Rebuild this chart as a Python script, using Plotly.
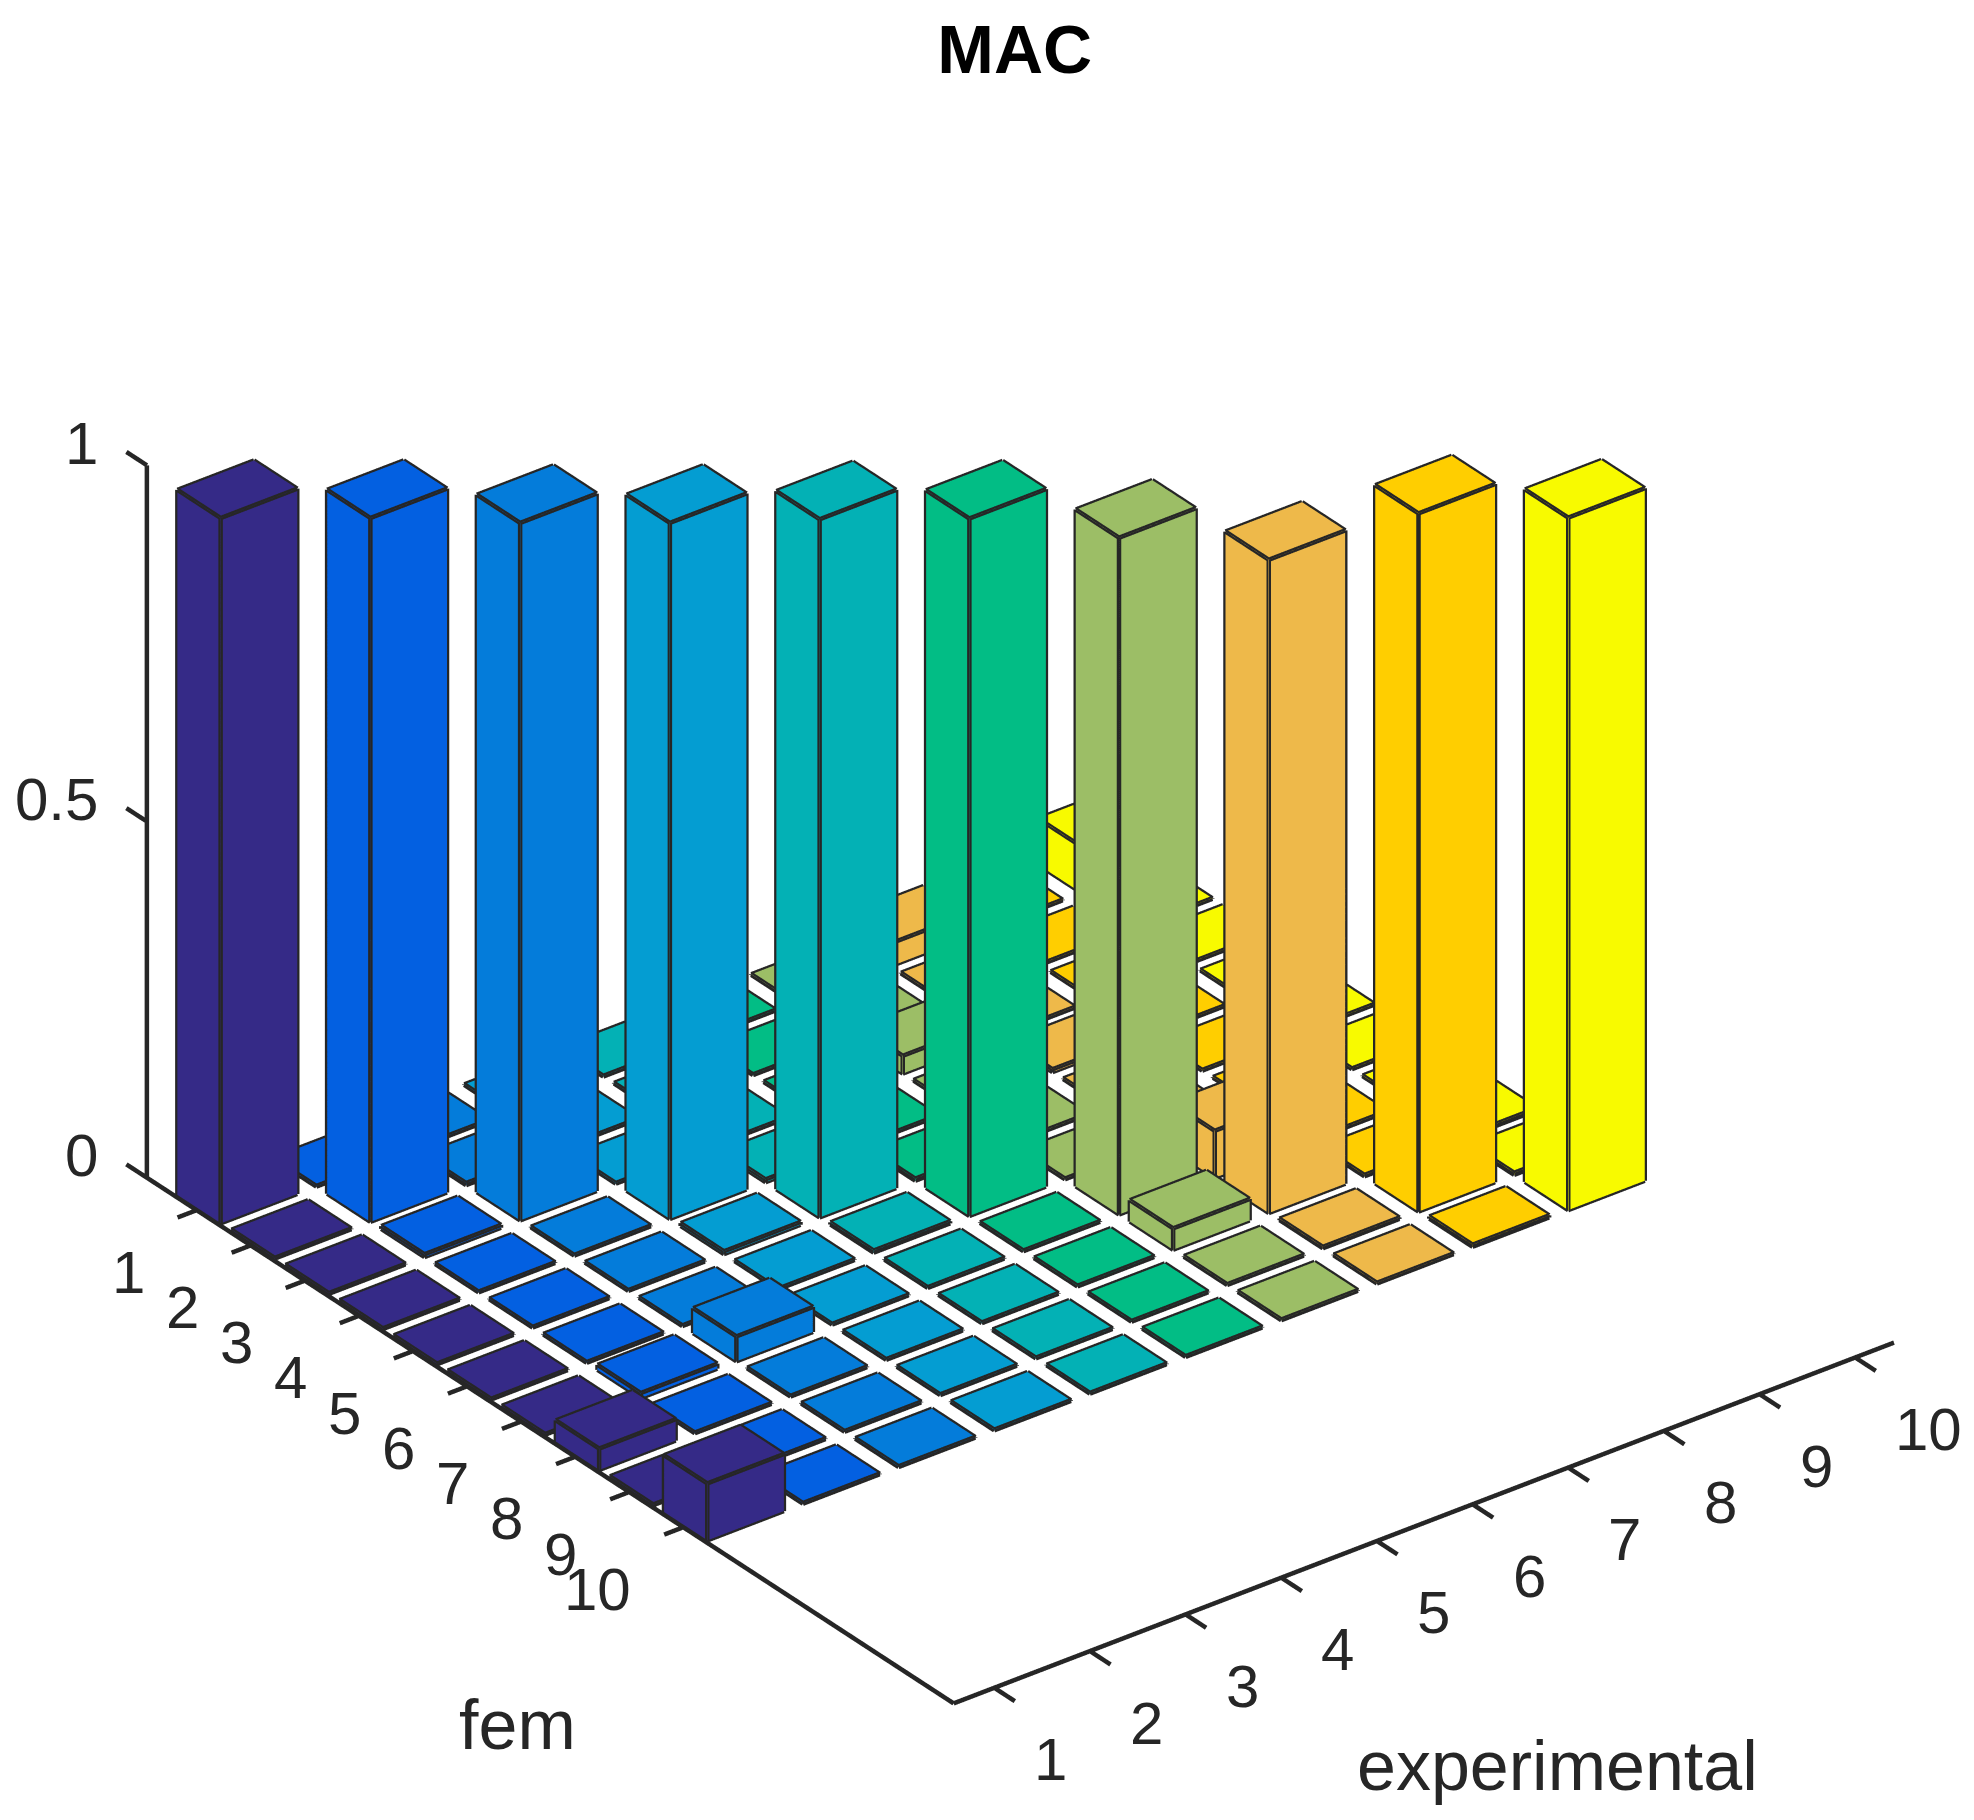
import math
import plotly.graph_objects as go

exp_ticks = [1, 2, 3, 4, 5, 6, 7, 8, 9, 10]
fem_ticks = [1, 2, 3, 4, 5, 6, 7, 8, 9, 10]
z_ticks = [0, 0.5, 1]
z_labels = ["0", "0.5", "1"]
colors = ["#352A87", "#0360E1", "#047CDA", "#049DD2", "#03B1B5",
          "#02BD85", "#9CBE66", "#EEB94A", "#FFCE00", "#F8FA00"]

mac_exp1 = [0.990, 0.001, 0.001, 0.001, 0.001, 0.001, 0.001, 0.030, 0.001, 0.080]
mac_exp2 = [0.001, 0.988, 0.004, 0.001, 0.001, 0.001, 0.007, 0.001, 0.001, 0.001]
mac_exp3 = [0.001, 0.003, 0.979, 0.001, 0.001, 0.001, 0.035, 0.001, 0.001, 0.001]
mac_exp4 = [0.001, 0.001, 0.001, 0.977, 0.004, 0.001, 0.001, 0.001, 0.001, 0.001]
mac_exp5 = [0.001, 0.001, 0.001, 0.004, 0.980, 0.003, 0.001, 0.001, 0.001, 0.001]
mac_exp6 = [0.001, 0.001, 0.001, 0.001, 0.003, 0.979, 0.001, 0.001, 0.001, 0.001]
mac_exp7 = [0.001, 0.005, 0.025, 0.001, 0.001, 0.001, 0.950, 0.030, 0.001, 0.001]
mac_exp8 = [0.032, 0.001, 0.001, 0.004, 0.001, 0.001, 0.066, 0.917, 0.002, 0.001]
mac_exp9 = [0.001, 0.001, 0.001, 0.001, 0.001, 0.001, 0.001, 0.002, 0.980, 0.003]
mac_exp10 = [0.065, 0.001, 0.001, 0.001, 0.001, 0.001, 0.001, 0.003, 0.003, 0.972]
mac = [mac_exp1, mac_exp2, mac_exp3, mac_exp4, mac_exp5,
       mac_exp6, mac_exp7, mac_exp8, mac_exp9, mac_exp10]

W = 0.4
EDGE = "#262626"
LW = 9
FONT = "Liberation Sans"
XLO, XHI = 0.575, 10.405
YLO, YHI = 0.08, 15.0
TX, TY = 0.2, 0.38
X_RANGE = [XLO - TX - 0.02, 10.45]
Y_RANGE = [YHI + TY + 0.02, YLO - TY - 0.02]
Z_RANGE = [-0.001, 1.001]
SX, SY, SZ = 0.1325, 0.0976, 0.904
ASPECT = dict(x=SX * (X_RANGE[1] - X_RANGE[0]), y=SY * (Y_RANGE[0] - Y_RANGE[1]),
              z=SZ * (Z_RANGE[1] - Z_RANGE[0]))
AZ = math.radians(37.5)
EL = math.radians(30)
R = 3.0
K = 912.0   # full-size px per aspect unit
# where the front-bottom corner of the first bar should land, px from the page centre
ANCHOR = (0.6, 1.4, 0.0)
RIGHT_PX, UP_PX = -776.0, -306.0

s, c, se, ce = math.sin(AZ), math.cos(AZ), math.sin(EL), math.cos(EL)
wx = SX * (ANCHOR[0] - sum(X_RANGE) / 2)
wy = -SY * (ANCHOR[1] - sum(Y_RANGE) / 2)
wz = SZ * (ANCHOR[2] - sum(Z_RANGE) / 2)
cx = wx - (RIGHT_PX / K * c + UP_PX / K * s * se)
cy = wy - (-RIGHT_PX / K * s + UP_PX / K * c * se)
cz = wz - (UP_PX / K * ce)

FACES = [(0,1,2),(0,2,3),(4,5,6),(4,6,7),(0,1,5),(0,5,4),
         (1,2,6),(1,6,5),(2,3,7),(2,7,6),(3,0,4),(3,4,7)]
EDGES = [(0,1),(1,2),(2,3),(3,0),(4,5),(5,6),(6,7),(7,4),(0,4),(1,5),(2,6),(3,7)]

fig = go.Figure()
for e, column in zip(exp_ticks, mac):
    color = colors[e - 1]
    vx, vy, vz, fi, fj, fk = [], [], [], [], [], []
    lx, ly, lz = [], [], []
    for f, h in zip(fem_ticks, column):
        base = len(vx)
        corners = [(e-W, f-W, 0), (e+W, f-W, 0), (e+W, f+W, 0), (e-W, f+W, 0),
                   (e-W, f-W, h), (e+W, f-W, h), (e+W, f+W, h), (e-W, f+W, h)]
        for p in corners:
            vx.append(p[0]); vy.append(p[1]); vz.append(p[2])
        for a, b, d in FACES:
            fi.append(base+a); fj.append(base+b); fk.append(base+d)
        for a, b in EDGES:
            lx += [corners[a][0], corners[b][0], None]
            ly += [corners[a][1], corners[b][1], None]
            lz += [corners[a][2], corners[b][2], None]
    fig.add_trace(go.Mesh3d(x=vx, y=vy, z=vz, i=fi, j=fj, k=fk, color=color,
                            flatshading=True, hoverinfo="skip",
                            lighting=dict(ambient=1, diffuse=0, specular=0, roughness=1, fresnel=0)))
    fig.add_trace(go.Scatter3d(x=lx, y=ly, z=lz, mode="lines", hoverinfo="skip",
                               line=dict(color=EDGE, width=LW), showlegend=False))

ax, ay, az = [], [], []
def seg(p, q):
    ax.extend([p[0], q[0], None]); ay.extend([p[1], q[1], None]); az.extend([p[2], q[2], None])
seg((XLO, YLO, 1), (XLO, YLO, 0))
seg((XLO, YLO, 0), (XLO, YHI, 0))
seg((XLO, YHI, 0), (XHI, YHI, 0))
for v in exp_ticks:
    seg((v, YHI, 0), (v, YHI + TY, 0))
for v in fem_ticks:
    seg((XLO, v, 0), (XLO - TX, v, 0))
for v in z_ticks:
    seg((XLO, YLO, v), (XLO, YLO - TY, v))
fig.add_trace(go.Scatter3d(x=ax, y=ay, z=az, mode="lines", hoverinfo="skip",
                           line=dict(color=EDGE, width=LW), showlegend=False))

tick_font = dict(family=FONT, size=60, color=EDGE)
ann = []
for v in exp_ticks:
    ann.append(dict(x=v, y=YHI, z=0, text=str(v), showarrow=False, font=tick_font,
                    xanchor="left", yanchor="middle", xshift=38, yshift=-72))
for v in fem_ticks:
    ann.append(dict(x=XLO, y=v, z=0, text=str(v), showarrow=False, font=tick_font,
                    xanchor="right", yanchor="middle", xshift=-50, yshift=-62))
for v, t in zip(z_ticks, z_labels):
    ann.append(dict(x=XLO, y=YLO, z=v, text=t, showarrow=False, font=tick_font,
                    xanchor="right", yanchor="middle", xshift=-47, yshift=22))

def axis(rng):
    return dict(title=dict(text=""), range=rng, showticklabels=False, ticks="",
                showgrid=False, zeroline=False, showbackground=False, showspikes=False,
                showline=False)

label_font = dict(family=FONT, size=70, color=EDGE)
fig.update_layout(
    width=1974, height=1820, margin=dict(l=0, r=0, t=0, b=0),
    paper_bgcolor="white", showlegend=False,
    title=dict(text="<b>MAC</b>", x=0.510, xanchor="center", y=0.9773, yanchor="middle",
               font=dict(family=FONT, size=68, color="black")),
    annotations=[
        dict(text="fem", x=0.258, y=0.0567, xref="paper", yref="paper", showarrow=False,
             xanchor="center", yanchor="middle", font=label_font),
        dict(text="experimental", x=0.785, y=0.0339, xref="paper", yref="paper", showarrow=False,
             xanchor="center", yanchor="middle", font=label_font),
    ],
    scene=dict(
        domain=dict(x=[0, 1], y=[0, 1]),
        aspectmode="manual", aspectratio=ASPECT,
        xaxis=axis(X_RANGE), yaxis=axis(Y_RANGE), zaxis=axis(Z_RANGE),
        annotations=ann,
        camera=dict(projection=dict(type="orthographic"),
                    up=dict(x=0, y=0, z=1), center=dict(x=cx, y=cy, z=cz),
                    eye=dict(x=cx - R*s*ce, y=cy - R*c*ce, z=cz + R*se)),
    ),
)
fig.write_html("out.html")
